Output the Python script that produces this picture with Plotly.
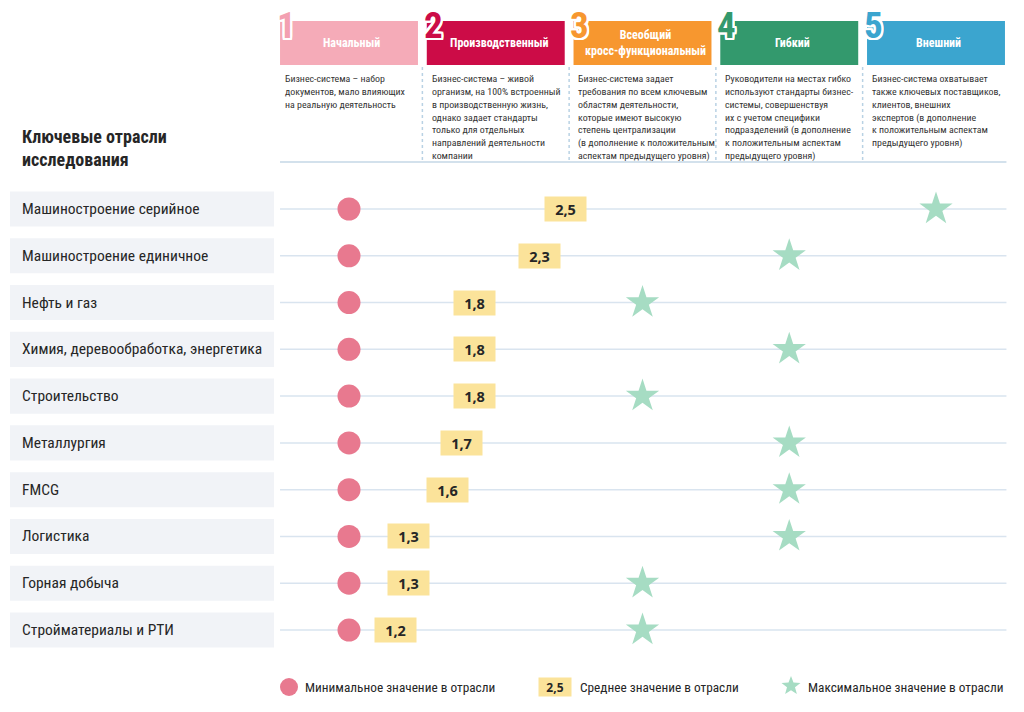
import math
import plotly.graph_objects as go

# ---------------- data ----------------
industries = [
    "Машиностроение серийное",
    "Машиностроение единичное",
    "Нефть и газ",
    "Химия, деревообработка, энергетика",
    "Строительство",
    "Металлургия",
    "FMCG",
    "Логистика",
    "Горная добыча",
    "Стройматериалы и РТИ",
]
min_values = [1, 1, 1, 1, 1, 1, 1, 1, 1, 1]
mean_values = [2.5, 2.3, 1.8, 1.8, 1.8, 1.7, 1.6, 1.3, 1.3, 1.2]
max_values = [5, 4, 3, 4, 3, 4, 4, 4, 3, 3]

levels = [1, 2, 3, 4, 5]
level_numbers = ["1", "2", "3", "4", "5"]
level_names = ["Начальный", "Производственный", "Всеобщий<br>кросс-функциональный", "Гибкий", "Внешний"]
level_descriptions = [
    "Бизнес-система – набор<br>документов, мало влияющих<br>на реальную деятельность",
    "Бизнес-система – живой<br>организм, на 100% встроенный<br>в производственную жизнь,<br>однако задает стандарты<br>только для отдельных<br>направлений деятельности<br>компании",
    "Бизнес-система задает<br>требования по всем ключевым<br>областям деятельности,<br>которые имеют высокую<br>степень централизации<br>(в дополнение к положительным<br>аспектам предыдущего уровня)",
    "Руководители на местах гибко<br>используют стандарты бизнес-<br>системы, совершенствуя<br>их с учетом специфики<br>подразделений (в дополнение<br>к положительным аспектам<br>предыдущего уровня)",
    "Бизнес-система охватывает<br>также ключевых поставщиков,<br>клиентов, внешних<br>экспертов (в дополнение<br>к положительным аспектам<br>предыдущего уровня)",
]
level_colors = ["#f5abb8", "#cc0c47", "#f7972f", "#33996d", "#3ba5cf"]
digit_colors = ["#f3a0b1", "#cc0c47", "#f7972f", "#33996d", "#3ba5cf"]

title_text = "Ключевые отрасли<br>исследования"
legend_labels = ["Минимальное значение в отрасли", "Среднее значение в отрасли", "Максимальное значение в отрасли"]
legend_sample = "2,5"

# ---------------- style ----------------
W, H = 1024, 712
NARROW = "Liberation Sans Narrow, Roboto Condensed, Arial Narrow, DejaVu Sans Condensed, sans-serif"
BOLDNUM = "Open Sans, Lato, sans-serif"
PINK = "#e8798f"
MINT = "#a6dcc3"
YELLOW = "#fbe39a"
ROWLINE = "#d9e4ef"
LABELBG = "#f1f3f7"
TXT = "#262626"


def px(x):
    return x / W


def py(y):
    return 1 - y / H


def fmt(v):
    return f"{v:.1f}".replace(".", ",")


n = len(industries)
rows = list(range(n))

fig = go.Figure()

# min circles
fig.add_trace(go.Scatter(
    x=min_values, y=rows, mode="markers",
    marker=dict(size=23, color=PINK, line=dict(width=0)),
    hoverinfo="skip", showlegend=False,
))
# max stars
fig.add_trace(go.Scatter(
    x=max_values, y=rows, mode="markers",
    marker=dict(size=25, symbol="star", color=MINT, line=dict(width=0)),
    hoverinfo="skip", showlegend=False,
))
# invisible trace to activate x2 (scale used for the mean labels)
fig.add_trace(go.Scatter(
    x=mean_values, y=rows, mode="markers", xaxis="x2",
    marker=dict(size=1, color="rgba(0,0,0,0)"),
    hoverinfo="skip", showlegend=False,
))

shapes = []
annotations = []

half = 0.47
# row lines + label backgrounds + labels
for i, name in enumerate(industries):
    shapes.append(dict(type="line", xref="x", yref="y", x0=levels[0] - half, x1=levels[-1] + half + 0.01,
                       y0=i, y1=i, line=dict(color=ROWLINE, width=1.5), layer="below"))
    shapes.append(dict(type="rect", xref="paper", yref="y", x0=px(10), x1=px(274),
                       y0=i - 0.375, y1=i + 0.375, fillcolor=LABELBG, line=dict(width=0), layer="below"))
    annotations.append(dict(xref="paper", yref="y", x=px(20), y=i, text=name, showarrow=False,
                            xanchor="left", yanchor="middle",
                            font=dict(family=NARROW, size=15.5, color=TXT)))

# mean boxes
for i, v in enumerate(mean_values):
    annotations.append(dict(xref="x2", yref="y", x=v, y=i, text="<b>" + fmt(v) + "</b>", showarrow=False,
                            xanchor="center", yanchor="middle", bgcolor=YELLOW, width=41, height=24,
                            borderpad=0, font=dict(family=BOLDNUM, size=14.5, color=TXT)))

# header
shadow = ", ".join(f"{a}px {b}px 0 #fff" for a in (-2, -1, 0, 1, 2) for b in (-2, -1, 0, 1, 2) if (a, b) != (0, 0))
for k, lev in enumerate(levels):
    shapes.append(dict(type="rect", xref="x", yref="paper", x0=lev - half, x1=lev + half,
                       y0=py(65), y1=py(21), fillcolor=level_colors[k], line=dict(width=0)))
    annotations.append(dict(xref="x", yref="paper", x=lev + 0.02, y=py(43), text="<b>" + level_names[k] + "</b>",
                            showarrow=False, xanchor="center", yanchor="middle",
                            font=dict(family=NARROW, size=12, color="white")))
    annotations.append(dict(xref="x", yref="paper", x=lev - half - 0.035, y=py(25),
                            text="<b>" + level_numbers[k] + "</b>", showarrow=False,
                            xanchor="left", yanchor="middle",
                            font=dict(family=NARROW, size=37, color=digit_colors[k], shadow=shadow)))
    annotations.append(dict(xref="x", yref="paper", x=lev - half + 0.02, y=py(71),
                            text=level_descriptions[k], showarrow=False, align="left",
                            xanchor="left", yanchor="top",
                            font=dict(family=NARROW, size=9.9, color="#333333")))
    if k < len(levels) - 1:
        shapes.append(dict(type="line", xref="x", yref="paper", x0=lev + 0.5, x1=lev + 0.5,
                           y0=py(160), y1=py(66), line=dict(color="#b9d2e4", width=1.5, dash="dot")))

shapes.append(dict(type="line", xref="x", yref="paper", x0=levels[0] - half, x1=levels[-1] + half + 0.01,
                   y0=py(162), y1=py(162), line=dict(color="#d3e1ec", width=2)))

annotations.append(dict(xref="paper", yref="paper", x=px(20), y=py(148), text="<b>" + title_text + "</b>",
                        showarrow=False, align="left", xanchor="left", yanchor="middle",
                        font=dict(family=NARROW, size=18, color=TXT)))

# legend
ly = py(687)
shapes.append(dict(type="circle", xref="paper", yref="paper", x0=px(280), x1=px(298),
                   y0=py(696), y1=py(678), fillcolor=PINK, line=dict(width=0)))
annotations.append(dict(xref="paper", yref="paper", x=px(303), y=ly, text=legend_labels[0], showarrow=False,
                        xanchor="left", yanchor="middle", font=dict(family=NARROW, size=13.3, color=TXT)))
annotations.append(dict(xref="paper", yref="paper", x=px(555), y=ly, text="<b>" + legend_sample + "</b>",
                        showarrow=False, xanchor="center", yanchor="middle", bgcolor=YELLOW, width=32, height=18,
                        borderpad=0, font=dict(family=BOLDNUM, size=12, color=TXT)))
annotations.append(dict(xref="paper", yref="paper", x=px(578), y=ly, text=legend_labels[1], showarrow=False,
                        xanchor="left", yanchor="middle", font=dict(family=NARROW, size=13.3, color=TXT)))
# star glyph path
cx, cy, R, r = 791, 686, 10, 4.2
pts = []
for j in range(10):
    ang = -math.pi / 2 + j * math.pi / 5
    rad = R if j % 2 == 0 else r
    pts.append((px(cx + rad * math.cos(ang)), py(cy + rad * math.sin(ang))))
path = "M " + " L ".join(f"{a:.5f},{b:.5f}" for a, b in pts) + " Z"
shapes.append(dict(type="path", xref="paper", yref="paper", path=path, fillcolor=MINT, line=dict(width=0)))
annotations.append(dict(xref="paper", yref="paper", x=px(806), y=ly, text=legend_labels[2], showarrow=False,
                        xanchor="left", yanchor="middle", font=dict(family=NARROW, size=13.3, color=TXT)))

# axes: pixel = 349 + 146.75*(v-1) ; rows: pixel = 209 + 46.78*i
sx = 146.75
x_lo = 1 - 349 / sx
x_hi = 1 + (W - 349) / sx
sx2 = 130.3
x2_lo = -239.5 / sx2
x2_hi = (W - 239.5) / sx2
sy = 46.78
y_top = -209 / sy
y_bot = (H - 209) / sy

fig.update_layout(
    width=W, height=H,
    margin=dict(l=0, r=0, t=0, b=0),
    paper_bgcolor="white", plot_bgcolor="white",
    xaxis=dict(range=[x_lo, x_hi], visible=False, fixedrange=True),
    xaxis2=dict(range=[x2_lo, x2_hi], visible=False, overlaying="x", fixedrange=True),
    yaxis=dict(range=[y_bot, y_top], visible=False, fixedrange=True),
    shapes=shapes,
    annotations=annotations,
    showlegend=False,
)

fig.write_html(
    "out.html",
    config={"displayModeBar": False},
    post_script="document.body.style.margin='0';document.body.style.overflow='hidden';",
)
